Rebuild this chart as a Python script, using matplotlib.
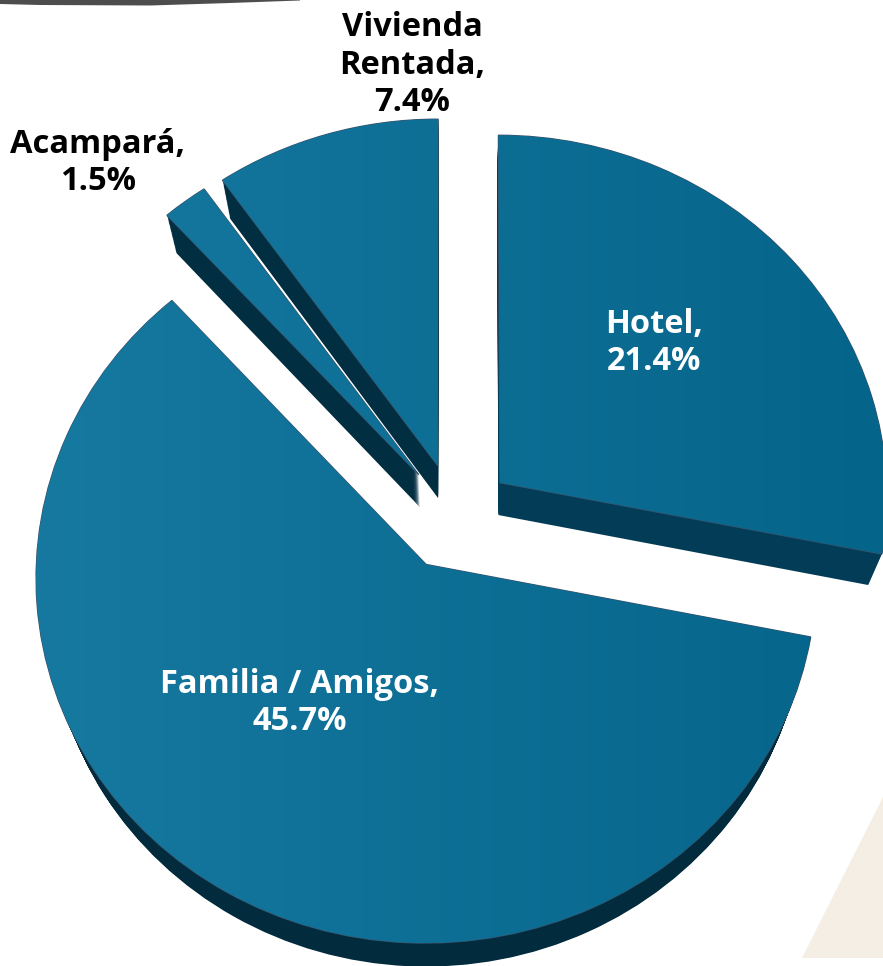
import numpy as np
import matplotlib
matplotlib.use("Agg")
import matplotlib.pyplot as plt
from matplotlib.patches import Polygon
from matplotlib.transforms import Transform, Affine2D

labels = ["Hotel", "Familia / Amigos", "Acampará", "Vivienda\nRentada"]
values = [21.4, 45.7, 1.5, 7.4]
explode = [0.15, 0.15, 0.15, 0.15]
side_colors = ["#033c56", "#022b3d", "#022e41", "#022e41"]


class Tilt(Transform):
    # pie circle -> pixels, top of the pie a bit smaller than the bottom
    input_dims = 2
    output_dims = 2
    is_separable = False
    has_inverse = False

    def transform_non_affine(self, xy):
        xy = np.asarray(xy, dtype=float)
        w = 1 + 0.035 * xy[:, 1]
        return np.column_stack((455 + 388 * xy[:, 0] / w, 517 - 362 * xy[:, 1] / w))


fig = plt.figure(figsize=(8.83, 9.66), dpi=100)
ax = fig.add_axes([0, 0, 1, 1])

# side walls: stack of dark pies, deepest first, shrinking toward the middle
for d in np.arange(32, 0, -1.0):
    wedges, _ = ax.pie(values, explode=explode, startangle=90, counterclock=False,
                       colors=side_colors)
    shift = Affine2D().translate(-455, -500).scale(1 - d * 0.001, 1 - d * 0.0006).translate(455, 500 + d)
    for w in wedges:
        w.set_transform(Tilt() + shift + ax.transData)
        w.set_edgecolor("none")
        w.set_zorder(2)

# top faces with the soft left-right gradient
wedges, _ = ax.pie(values, explode=explode, startangle=90, counterclock=False,
                   colors=["#0a6a92"] * 4)
grad = np.linspace(0, 1, 256).reshape(1, -1)
cmap = matplotlib.colors.LinearSegmentedColormap.from_list("face", ["#177aa1", "#05648a"])
for w in wedges:
    w.set_transform(Tilt() + ax.transData)
    w.set_edgecolor("#3d5068")
    w.set_linewidth(0.9)
    w.set_zorder(3)
    im = ax.imshow(grad, extent=[0, 883, 966, 0], cmap=cmap, aspect="auto", zorder=3.5)
    im.set_clip_path(w)

ax.set_aspect("auto")
ax.set_xlim(0, 883)
ax.set_ylim(966, 0)
ax.axis("off")

# decoration around the chart
ax.add_patch(Polygon([[0, 4], [40, 5], [150, 5.5], [230, 3], [300, 0.5], [300, 0], [0, 0]], closed=True,
                     facecolor="#4d4d4d", edgecolor="none", zorder=1))
ax.add_patch(Polygon([[802, 958], [883, 797], [883, 958]], closed=True,
                     facecolor="#f4eee4", edgecolor="none", zorder=1))

font = dict(fontsize=23.5, fontweight="bold", ha="center", va="center", linespacing=1.19,
            family="Open Sans", zorder=5)
ax.text(654, 343, f"{labels[0]},\n{values[0]}%", color="white", **font)
ax.text(300, 703, f"{labels[1]},\n{values[1]}%", color="white", **font)
ax.text(98, 163, f"{labels[2]},\n{values[2]}%", color="black", **font)
ax.text(412, 65, f"{labels[3]},\n{values[3]}%", color="black", **font)

fig.savefig("out.png", dpi=100)
